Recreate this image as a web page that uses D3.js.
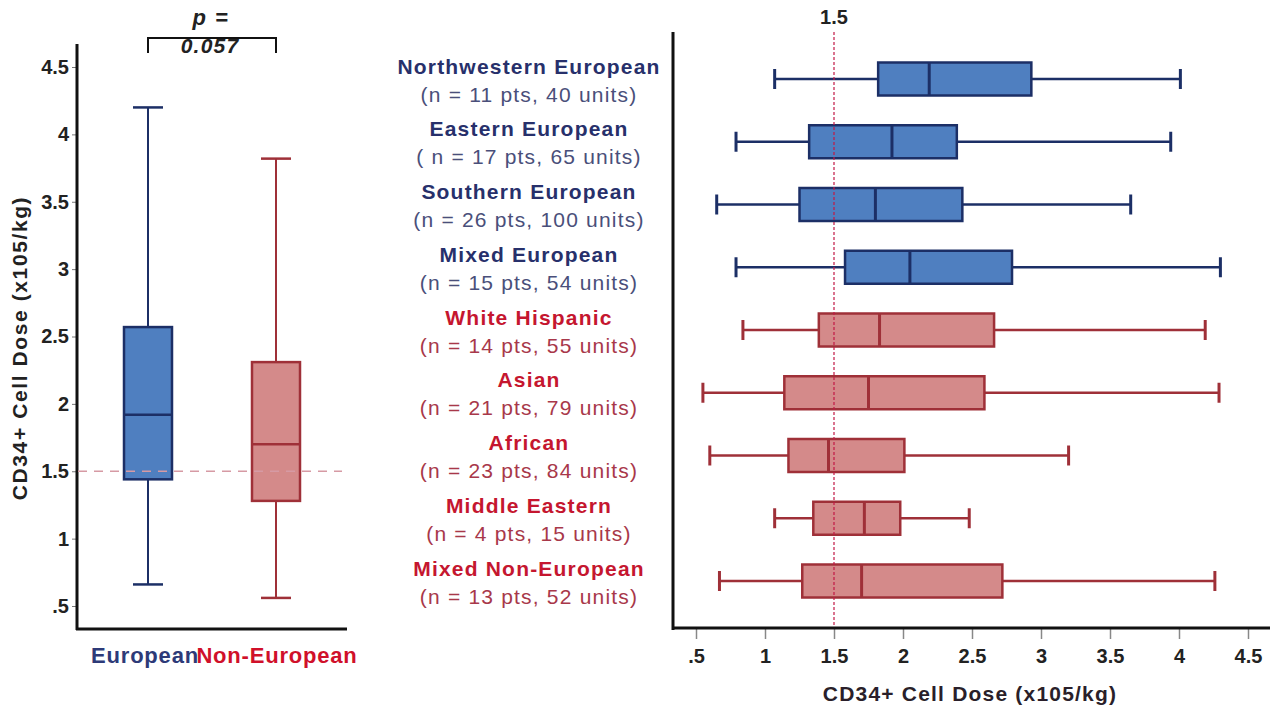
<!DOCTYPE html>
<html>
<head>
<meta charset="utf-8">
<script src="https://cdn.jsdelivr.net/npm/d3@7"></script>
<style>
  body { margin: 0; background: #fff; }
  svg { font-family: "Liberation Sans", Arial, sans-serif; }
</style>
</head>
<body>
<div id="chart"></div>
<script>
// left panel: pooled groups  [lower whisker, q1, median, q3, upper whisker]
var groupNames = ["European", "Non-European"];
var groupStats = [
  [0.66, 1.44, 1.92, 2.57, 4.20],
  [0.56, 1.28, 1.70, 2.31, 3.82]
];
var pValue = "0.057";

// right panel: by ancestry
var ancestry = ["Northwestern European", "Eastern European", "Southern European", "Mixed European",
  "White Hispanic", "Asian", "African", "Middle Eastern", "Mixed Non-European"];
var ancestryN = ["(n = 11 pts, 40 units)", "( n = 17 pts, 65 units)", "(n = 26 pts, 100 units)",
  "(n = 15 pts, 54 units)", "(n = 14 pts, 55 units)", "(n = 21 pts, 79 units)",
  "(n = 23 pts, 84 units)", "(n = 4 pts, 15 units)", "(n = 13 pts, 52 units)"];
var isEuropean = [true, true, true, true, false, false, false, false, false];
var ancestryLow = [1.07, 0.79, 0.65, 0.79, 0.84, 0.55, 0.60, 1.07, 0.67];
var ancestryQ1 = [1.82, 1.32, 1.25, 1.58, 1.39, 1.14, 1.17, 1.35, 1.27];
var ancestryMed = [2.19, 1.92, 1.80, 2.05, 1.83, 1.75, 1.46, 1.72, 1.70];
var ancestryQ3 = [2.93, 2.39, 2.43, 2.79, 2.66, 2.59, 2.01, 1.98, 2.72];
var ancestryHigh = [4.01, 3.94, 3.65, 4.30, 4.19, 4.29, 3.20, 2.48, 4.26];

var doseTicks = [0.5, 1, 1.5, 2, 2.5, 3, 3.5, 4, 4.5];
var threshold = 1.5;
var axisTitle = "CD34+ Cell Dose (x105/kg)";

var blue = {fill: "#4f7fc0", stroke: "#1c2f66", name: "#27306b", sub: "#4a4f7a"};
var red = {fill: "#d48a8a", stroke: "#9f3038", name: "#c5162f", sub: "#a8384a"};
var fmt = function(d) { return d === 0.5 ? ".5" : String(d); };

var svg = d3.select("#chart").append("svg")
  .attr("width", 1281).attr("height", 712);

// ---------- left panel ----------
var ly = d3.scaleLinear().domain([0.5, 4.5]).range([606, 67]);
var lx = d3.scalePoint().domain(groupNames).range([148, 276]);
var left = svg.append("g");

left.append("g")
  .attr("transform", "translate(77,0)")
  .call(d3.axisLeft(ly).tickValues(doseTicks).tickFormat(fmt).tickSize(5).tickPadding(3))
  .call(function(g) {
    g.select(".domain").remove();
    g.selectAll(".tick line").attr("stroke", "#777");
    g.selectAll(".tick text").attr("font-size", 20).attr("font-weight", "bold").attr("fill", "#222")
      .attr("font-family", "Liberation Sans, Arial, sans-serif");
  });

left.append("line").attr("x1", 77).attr("x2", 77).attr("y1", 44).attr("y2", 630)
  .attr("stroke", "#111").attr("stroke-width", 3);
left.append("line").attr("x1", 76).attr("x2", 347).attr("y1", 629).attr("y2", 629)
  .attr("stroke", "#111").attr("stroke-width", 3);

groupNames.forEach(function(name, i) {
  var s = groupStats[i], c = i === 0 ? blue : red, cx = lx(name), g = left.append("g");
  g.append("line").attr("x1", cx).attr("x2", cx).attr("y1", ly(s[0])).attr("y2", ly(s[4]))
    .attr("stroke", c.stroke).attr("stroke-width", 2);
  [s[0], s[4]].forEach(function(v) {
    g.append("line").attr("x1", cx - 15).attr("x2", cx + 15).attr("y1", ly(v)).attr("y2", ly(v))
      .attr("stroke", c.stroke).attr("stroke-width", 2.5);
  });
  g.append("rect").attr("x", cx - 24).attr("width", 48)
    .attr("y", ly(s[3])).attr("height", ly(s[1]) - ly(s[3]))
    .attr("fill", c.fill).attr("stroke", c.stroke).attr("stroke-width", 2.5);
  g.append("line").attr("x1", cx - 24).attr("x2", cx + 24).attr("y1", ly(s[2])).attr("y2", ly(s[2]))
    .attr("stroke", c.stroke).attr("stroke-width", 2.5);
  left.append("text").attr("x", cx + (i === 0 ? -3 : 1)).attr("y", 655).attr("text-anchor", "middle")
    .attr("dominant-baseline", "central").attr("font-size", 22).attr("font-weight", "bold")
    .attr("letter-spacing", 0.8)
    .attr("fill", i === 0 ? "#2d3a78" : "#d0102a").text(name);
});

left.append("line").attr("x1", 78).attr("x2", 342).attr("y1", ly(threshold)).attr("y2", ly(threshold))
  .attr("stroke", "#d69aa4").attr("stroke-width", 1.5).attr("stroke-dasharray", "9,7");

// significance bracket
left.append("path")
  .attr("d", "M" + lx(groupNames[0]) + ",53V38H" + lx(groupNames[1]) + "V53")
  .attr("fill", "none").attr("stroke", "#111").attr("stroke-width", 2);
left.append("text").attr("x", 211).attr("y", 17).attr("text-anchor", "middle")
  .attr("dominant-baseline", "central").attr("font-size", 22).attr("font-weight", "bold")
  .attr("font-style", "italic").attr("letter-spacing", 1.5).attr("fill", "#222").text("p =");
left.append("text").attr("x", 210).attr("y", 45).attr("text-anchor", "middle")
  .attr("dominant-baseline", "central").attr("font-size", 21).attr("font-weight", "bold")
  .attr("font-style", "italic").attr("letter-spacing", 1.2).attr("fill", "#222").text(pValue);

left.append("text")
  .attr("transform", "translate(19,348) rotate(-90)")
  .attr("text-anchor", "middle").attr("dominant-baseline", "central")
  .attr("font-size", 21).attr("font-weight", "bold").attr("letter-spacing", 1.6)
  .attr("fill", "#222").text(axisTitle);

// ---------- right panel ----------
var rx = d3.scaleLinear().domain([0.5, 4.5]).range([696, 1248]);
var ry = d3.scalePoint().domain(ancestry).range([79, 581]);
var right = svg.append("g");

right.append("g")
  .attr("transform", "translate(0,629)")
  .call(d3.axisBottom(rx).tickValues(doseTicks).tickFormat(fmt).tickSize(10).tickPadding(10))
  .call(function(g) {
    g.select(".domain").remove();
    g.selectAll(".tick line").attr("stroke", "#888").attr("stroke-width", 1.5);
    g.selectAll(".tick text").attr("font-size", 20).attr("font-weight", "bold").attr("fill", "#222")
      .attr("font-family", "Liberation Sans, Arial, sans-serif");
  });

right.append("line").attr("x1", 673).attr("x2", 673).attr("y1", 32).attr("y2", 630)
  .attr("stroke", "#111").attr("stroke-width", 3);
right.append("line").attr("x1", 672).attr("x2", 1270).attr("y1", 628).attr("y2", 628)
  .attr("stroke", "#111").attr("stroke-width", 3);

ancestry.forEach(function(name, i) {
  var c = isEuropean[i] ? blue : red, cy = ry(name), g = right.append("g");
  g.append("line").attr("x1", rx(ancestryLow[i])).attr("x2", rx(ancestryHigh[i]))
    .attr("y1", cy).attr("y2", cy).attr("stroke", c.stroke).attr("stroke-width", 2.5);
  [ancestryLow[i], ancestryHigh[i]].forEach(function(v) {
    g.append("line").attr("x1", rx(v)).attr("x2", rx(v)).attr("y1", cy - 10).attr("y2", cy + 10)
      .attr("stroke", c.stroke).attr("stroke-width", 3);
  });
  g.append("rect").attr("x", rx(ancestryQ1[i])).attr("width", rx(ancestryQ3[i]) - rx(ancestryQ1[i]))
    .attr("y", cy - 16.5).attr("height", 33)
    .attr("fill", c.fill).attr("stroke", c.stroke).attr("stroke-width", 2.5);
  g.append("line").attr("x1", rx(ancestryMed[i])).attr("x2", rx(ancestryMed[i]))
    .attr("y1", cy - 16.5).attr("y2", cy + 16.5).attr("stroke", c.stroke).attr("stroke-width", 3);

  right.append("text").attr("x", 529).attr("y", cy - 13).attr("text-anchor", "middle")
    .attr("dominant-baseline", "central").attr("font-size", 21).attr("font-weight", "bold")
    .attr("letter-spacing", 1.2).attr("fill", c.name).text(name);
  right.append("text").attr("x", 529).attr("y", cy + 15).attr("text-anchor", "middle")
    .attr("dominant-baseline", "central").attr("font-size", 21)
    .attr("letter-spacing", 1.2).attr("fill", c.sub).text(ancestryN[i]);
});

right.append("line").attr("x1", rx(threshold)).attr("x2", rx(threshold)).attr("y1", 32).attr("y2", 627)
  .attr("stroke", "#c21845").attr("stroke-width", 1.2).attr("stroke-dasharray", "3,2");
right.append("text").attr("x", rx(threshold)).attr("y", 17).attr("text-anchor", "middle")
  .attr("dominant-baseline", "central").attr("font-size", 20).attr("font-weight", "bold")
  .attr("fill", "#222").text(String(threshold));

right.append("text").attr("x", 970).attr("y", 693).attr("text-anchor", "middle")
  .attr("dominant-baseline", "central").attr("font-size", 21).attr("font-weight", "bold")
  .attr("letter-spacing", 1.2).attr("fill", "#2a1f2a").text(axisTitle);
</script>
</body>
</html>
